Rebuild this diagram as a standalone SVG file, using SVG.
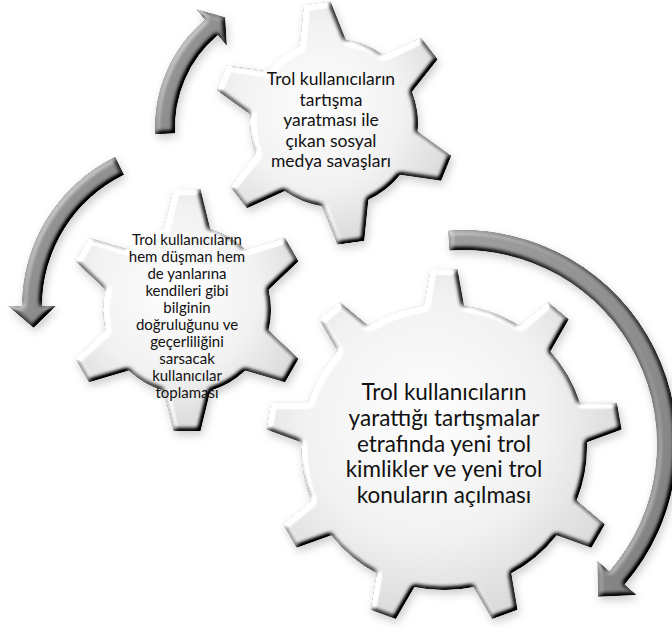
<svg xmlns="http://www.w3.org/2000/svg" width="672" height="628" viewBox="0 0 672 628">
<defs>
  <style>
    .t { font-family: Lato, "Open Sans", "Liberation Sans", sans-serif; fill: #111; text-anchor: middle; }
    .big { font-size: 22.5px; }
    .mid { font-size: 17.5px; }
    .sm { font-size: 15px; }
  </style>
  <radialGradient id="gfill" cx="0.45" cy="0.42" r="0.55">
    <stop offset="0" stop-color="#ffffff"/>
    <stop offset="0.6" stop-color="#f3f3f3"/>
    <stop offset="1" stop-color="#dcdcdc"/>
  </radialGradient>
  <linearGradient id="afill" x1="0" y1="0" x2="1" y2="1">
    <stop offset="0" stop-color="#a0a0a0"/>
    <stop offset="1" stop-color="#808080"/>
  </linearGradient>
  <path id="tooth6" d="M-24,-78 L-13.5,-121 L13.5,-121 L24,-78 Z"/>
  <path id="tooth9" d="M-20.5,-139 L-13.5,-178 L13.5,-178 L20.5,-139 Z"/>
  <clipPath id="clip6">
    <circle cx="0" cy="0" r="84"/>
    <use href="#tooth6"/>
    <use href="#tooth6" transform="rotate(60)"/>
    <use href="#tooth6" transform="rotate(120)"/>
    <use href="#tooth6" transform="rotate(180)"/>
    <use href="#tooth6" transform="rotate(240)"/>
    <use href="#tooth6" transform="rotate(300)"/>
  </clipPath>
  <clipPath id="clip9">
    <circle cx="0" cy="0" r="143"/>
    <use href="#tooth9"/>
    <use href="#tooth9" transform="rotate(40)"/>
    <use href="#tooth9" transform="rotate(80)"/>
    <use href="#tooth9" transform="rotate(120)"/>
    <use href="#tooth9" transform="rotate(160)"/>
    <use href="#tooth9" transform="rotate(200)"/>
    <use href="#tooth9" transform="rotate(240)"/>
    <use href="#tooth9" transform="rotate(280)"/>
    <use href="#tooth9" transform="rotate(320)"/>
  </clipPath>
  <filter id="bevel" x="-10%" y="-10%" width="125%" height="125%" color-interpolation-filters="sRGB">
    <feGaussianBlur in="SourceAlpha" stdDeviation="2.5" result="blur"/>
    <feDiffuseLighting in="blur" surfaceScale="5" diffuseConstant="1" lighting-color="#ffffff" result="diff">
      <feDistantLight azimuth="225" elevation="50"/>
    </feDiffuseLighting>
    <feComposite in="SourceGraphic" in2="diff" operator="arithmetic" k1="1.3" k2="0" k3="0" k4="0" result="lit"/>
    <feComposite in="lit" in2="SourceAlpha" operator="in" result="shape"/>
    <feGaussianBlur in="SourceAlpha" stdDeviation="4" result="sb"/>
    <feOffset in="sb" dx="2" dy="4" result="so"/>
    <feFlood flood-color="#000000" flood-opacity="0.2"/>
    <feComposite in2="so" operator="in" result="shadow"/>
    <feMerge>
      <feMergeNode in="shadow"/>
      <feMergeNode in="shape"/>
    </feMerge>
  </filter>
</defs>

<rect width="672" height="628" fill="#ffffff"/>

<g id="gear-left">
  <g filter="url(#bevel)">
    <g transform="translate(187,310)">
      <rect x="-125" y="-125" width="250" height="250" fill="url(#gfill)" clip-path="url(#clip6)"/>
    </g>
  </g>
  <text class="t sm" x="187" y="245">Trol kullanıcıların</text>
  <text class="t sm" x="187" y="262">hem düşman hem</text>
  <text class="t sm" x="187" y="279">de yanlarına</text>
  <text class="t sm" x="187" y="296">kendileri gibi</text>
  <text class="t sm" x="187" y="313">bilginin</text>
  <text class="t sm" x="187" y="330">doğruluğunu ve</text>
  <text class="t sm" x="187" y="347">geçerliliğini</text>
  <text class="t sm" x="187" y="364">sarsacak</text>
  <text class="t sm" x="187" y="381">kullanıcılar</text>
  <text class="t sm" x="187" y="398">toplaması</text>
</g>

<g id="gear-top">
  <g filter="url(#bevel)">
    <g transform="translate(334,123) rotate(-8)">
      <rect x="-125" y="-125" width="250" height="250" fill="url(#gfill)" clip-path="url(#clip6)"/>
    </g>
  </g>
  <text class="t mid" x="331" y="85">Trol kullanıcıların</text>
  <text class="t mid" x="331" y="105.5">tartışma</text>
  <text class="t mid" x="331" y="126">yaratması ile</text>
  <text class="t mid" x="331" y="146.5">çıkan sosyal</text>
  <text class="t mid" x="331" y="167">medya savaşları</text>
</g>

<g id="gear-big">
  <g filter="url(#bevel)">
    <g transform="translate(444,447)">
      <rect x="-182" y="-182" width="364" height="364" fill="url(#gfill)" clip-path="url(#clip9)"/>
    </g>
  </g>
  <text class="t big" x="444" y="400">Trol kullanıcıların</text>
  <text class="t big" x="444" y="426">yarattığı tartışmalar</text>
  <text class="t big" x="444" y="452">etrafında yeni trol</text>
  <text class="t big" x="444" y="477">kimlikler ve yeni trol</text>
  <text class="t big" x="444" y="503">konuların açılması</text>
</g>

<g id="connectors" fill="url(#afill)" filter="url(#bevel)">
  <path id="arrow-big" d="M448.07,230.52 A214,214 0 0 1 624.51,584.40 L636.58,594.89 L598.17,596.79 L597.34,560.78 L609.41,571.28 A194,194 0 0 0 449.47,250.47 Z"/>
  <path id="arrow-left" d="M115.23,156.80 A166,166 0 0 0 22,306 L8,306 L33.52,327.71 L56,306 L42,306 A146,146 0 0 1 124.00,174.78 Z"/>
  <path id="arrow-top" d="M155.19,134.33 A140,140 0 0 1 205.01,19.75 L196.01,9.03 L225.15,17.36 L226.86,45.80 L217.87,35.08 A120,120 0 0 0 175.16,133.28 Z"/>
</g>
</svg>
